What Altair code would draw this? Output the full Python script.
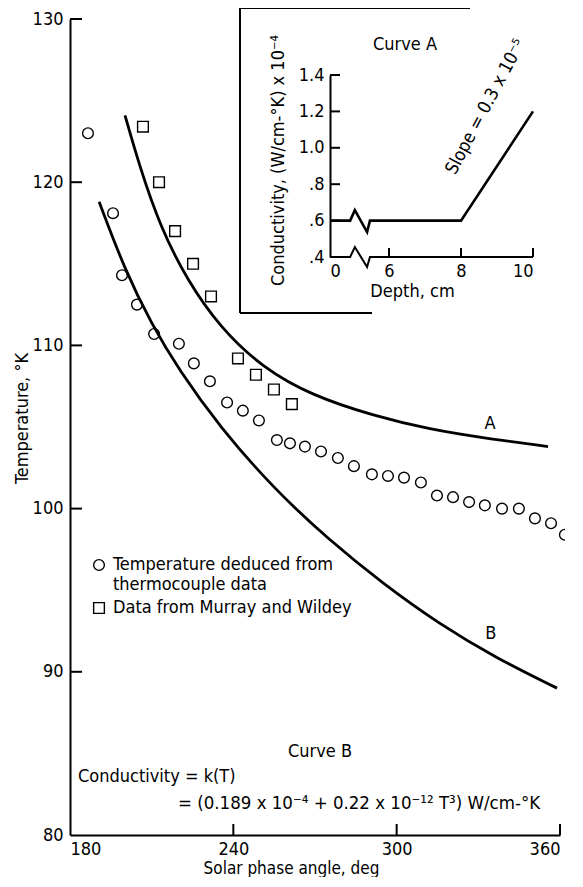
import altair as alt
import pandas as pd

FONT = "Liberation Sans Narrow, Arial Narrow, DejaVu Sans Condensed, Roboto Condensed, sans-serif"

# ---------------- main chart data ----------------
circ_phase = [186.6, 195.8, 199.1, 204.6, 210.9, 220.0, 225.5, 231.4, 237.7, 243.5,
              249.4, 256.0, 260.8, 266.3, 272.2, 278.4, 284.3, 290.9, 296.8, 302.7,
              308.9, 314.8, 320.7, 326.6, 332.4, 338.7, 344.9, 350.8, 356.7, 361.8]
circ_temp = [123.0, 118.1, 114.3, 112.5, 110.7, 110.1, 108.9, 107.8, 106.5, 106.0,
             105.4, 104.2, 104.0, 103.8, 103.5, 103.1, 102.6, 102.1, 102.0, 101.9,
             101.6, 100.8, 100.7, 100.4, 100.2, 100.0, 100.0, 99.4, 99.1, 98.4]
sq_phase = [206.8, 212.7, 218.6, 225.2, 231.8, 241.7, 248.3, 254.9, 261.5]
sq_temp = [123.4, 120.0, 117.0, 115.0, 113.0, 109.2, 108.2, 107.3, 106.4]
curveA_phase = [200.2, 205.7, 213.1, 223.0, 235.1, 250.9, 269.3, 291.3, 312.2, 333.2, 355.6]
curveA_temp = [124.1, 120.9, 117.3, 114.0, 111.1, 108.6, 106.9, 105.7, 104.85, 104.3, 103.8]
curveB_phase = [190.7, 200.2, 210.0, 220.0, 235.0, 255.0, 275.0, 295.0, 315.0, 337.0, 358.9]
curveB_temp = [118.8, 114.6, 111.3, 108.5, 105.0, 101.2, 98.1, 95.4, 93.0, 90.8, 89.0]
curve_labels = ["A", "B"]
curve_label_phase = [334.3, 334.6]
curve_label_temp = [105.2, 92.3]
x_ticks = [180, 240, 300, 360]
y_ticks = [80, 90, 100, 110, 120, 130]
series_names = ["Temperature deduced from|thermocouple data", "Data from Murray and Wildey"]

# ---------------- inset data ----------------
inset_depth = [4.36, 4.92, 5.05, 5.39, 5.47, 8.0, 10.0]
inset_cond = [0.6, 0.6, 0.657, 0.537, 0.6, 0.6, 1.2]
inset_axis_depth = [4.36, 4.92, 5.05, 5.39, 5.47, 10.0]
inset_axis_cond = [0.4, 0.4, 0.455, 0.345, 0.4, 0.4]
inset_x_ticks = [4.36, 6, 8, 10]
inset_y_ticks = [0.4, 0.6, 0.8, 1.0, 1.2, 1.4]

W, H = 490, 816

# ---------------- main layers ----------------
xs = alt.Scale(domain=[180, 360], nice=False, zero=False)
ys = alt.Scale(domain=[80, 130], nice=False, zero=False)
X = alt.X("phase:Q", scale=xs, axis=alt.Axis(
    values=x_ticks, ticks=False, grid=False, labelPadding=5,
    labelAlign={"condition": [{"test": "datum.value <= 180", "value": "left"},
                              {"test": "datum.value >= 360", "value": "right"}], "value": "center"},
    title="Solar phase angle, deg", titleX=221, titleY=33, titleBaseline="middle", titleFontSize=17))
Y = alt.Y("temp:Q", scale=ys, axis=alt.Axis(
    values=y_ticks, ticks=False, grid=False, labelPadding=7,
    title="Temperature, °K", titleX=-48, titleY=399, titleAlign="center",
    titleBaseline="middle", titleAngle=270))

dfA = pd.DataFrame({"phase": curveA_phase, "temp": curveA_temp})
dfB = pd.DataFrame({"phase": curveB_phase, "temp": curveB_temp})
lineA = alt.Chart(dfA).mark_line(color="black", strokeWidth=2.8, interpolate="basis").encode(x=X, y=Y)
lineB = alt.Chart(dfB).mark_line(color="black", strokeWidth=2.8, interpolate="basis").encode(x=X, y=Y)

dfP = pd.DataFrame({
    "phase": circ_phase + sq_phase,
    "temp": circ_temp + sq_temp,
    "series": [series_names[0]] * len(circ_phase) + [series_names[1]] * len(sq_phase),
})
pts = alt.Chart(dfP).mark_point(filled=False, color="black", strokeWidth=1.4, size=115, opacity=1).encode(
    x=X, y=Y,
    shape=alt.Shape("series:N", scale=alt.Scale(domain=series_names, range=["circle", "square"]),
                    legend=alt.Legend(title=None, orient="none", legendX=20, legendY=537,
                                      labelExpr="split(datum.label, '|')", labelLimit=500,
                                      labelFont=FONT, labelFontSize=18, labelColor="black",
                                      symbolStrokeColor="black", symbolStrokeWidth=1.4,
                                      symbolFillColor="transparent", symbolSize=115,
                                      labelOffset=5, rowPadding=5, padding=0)))

dfL = pd.DataFrame({"phase": curve_label_phase, "temp": curve_label_temp, "lab": curve_labels})
labs = alt.Chart(dfL).mark_text(font=FONT, fontSize=18, color="black").encode(x=X, y=Y, text="lab:N")

dfXT = pd.DataFrame({"phase": x_ticks[1:]})
xt = alt.Chart(dfXT).mark_rule(color="black", strokeWidth=2).encode(x=X, y=alt.value(H), y2=alt.value(H - 11))
dfYT = pd.DataFrame({"temp": y_ticks[1:]})
yt = alt.Chart(dfYT).mark_rule(color="black", strokeWidth=2).encode(y=Y, x=alt.value(0), x2=alt.value(12))

one = alt.Data(values=[{}])
def txt(s, x, y, size=18, align="left", angle=0):
    return alt.Chart(one).mark_text(text=s, font=FONT, fontSize=size, color="black",
                                    align=align, baseline="middle", angle=angle).encode(
        x=alt.value(x), y=alt.value(y))

curveB_txt = txt("Curve B", 250, 733, align="center")
cond_txt = txt("Conductivity = k(T)", 8, 758)
form_txt = txt("= (0.189 x 10⁻⁴ + 0.22 x 10⁻¹² T³) W/cm-°K", 108, 784, size=18.5)

main = alt.layer(lineA, lineB, pts, labs, xt, yt, curveB_txt, cond_txt, form_txt)

# ---------------- inset layers ----------------
ixs = alt.Scale(domain=[4.36, 10], range=[260, 463], nice=False, zero=False)
iys = alt.Scale(domain=[0.4, 1.4], range=[238, 56], nice=False, zero=False)
IX = alt.X("depth:Q", scale=ixs, axis=alt.Axis(
    orient="bottom", offset=-(H - 238), values=inset_x_ticks, domain=False, ticks=False, grid=False,
    labelExpr="datum.value < 5 ? '0' : datum.label", labelPadding=5,
    title="Depth, cm", titleX=342, titleY=34, titleBaseline="middle"))
IY = alt.Y("cond:Q", scale=iys, axis=alt.Axis(
    orient="left", offset=-260, values=inset_y_ticks, ticks=False, grid=False, format=".1f",
    labelExpr="datum.value < 1 ? slice(datum.label, 1) : datum.label", labelPadding=6,
    title="Conductivity, (W/cm-°K) x 10⁻⁴", titleX=-52, titleY=141, titleAlign="center",
    titleBaseline="middle", titleAngle=270))

dfI = pd.DataFrame({"depth": inset_depth, "cond": inset_cond, "o": range(len(inset_depth))})
iline = alt.Chart(dfI).mark_line(color="black", strokeWidth=2.6).encode(x=IX, y=IY, order="o:Q")
dfIA = pd.DataFrame({"depth": inset_axis_depth, "cond": inset_axis_cond, "o": range(len(inset_axis_depth))})
iaxis = alt.Chart(dfIA).mark_line(color="black", strokeWidth=2).encode(x=IX, y=IY, order="o:Q")
dfIXT = pd.DataFrame({"depth": inset_x_ticks[1:]})
ixt = alt.Chart(dfIXT).mark_rule(color="black", strokeWidth=2).encode(x=IX, y=alt.value(238), y2=alt.value(229))
dfIYT = pd.DataFrame({"cond": inset_y_ticks[1:]})
iyt = alt.Chart(dfIYT).mark_rule(color="black", strokeWidth=2).encode(y=IY, x=alt.value(260), x2=alt.value(270))

curveA_txt = txt("Curve A", 335, 26, align="center")
slope_txt = txt("Slope = 0.3 x 10⁻⁵", 416, 88, align="center", angle=298)

box_top = alt.Chart(one).mark_rule(color="black", strokeWidth=2).encode(x=alt.value(170), x2=alt.value(400), y=alt.value(-11))
box_left = alt.Chart(one).mark_rule(color="black", strokeWidth=2).encode(x=alt.value(170), y=alt.value(-11), y2=alt.value(294))
box_bot = alt.Chart(one).mark_rule(color="black", strokeWidth=2).encode(x=alt.value(170), x2=alt.value(302), y=alt.value(294))

inset = alt.layer(iline, iaxis, ixt, iyt, curveA_txt, slope_txt, box_top, box_left, box_bot)

chart = alt.layer(main, inset).resolve_scale(x="independent", y="independent").properties(
    width=W, height=H,
    autosize=alt.AutoSizeParams(type="none"),
    padding={"left": 62, "top": 11, "right": 5, "bottom": 42},
).configure_view(stroke=None).configure_axis(
    labelFont=FONT, labelFontSize=18, labelColor="black",
    titleFont=FONT, titleFontSize=18, titleColor="black", titleFontWeight="normal",
    domainColor="black", domainWidth=2,
)

chart.save("out.html", embed_options={"renderer": "svg", "actions": False})
